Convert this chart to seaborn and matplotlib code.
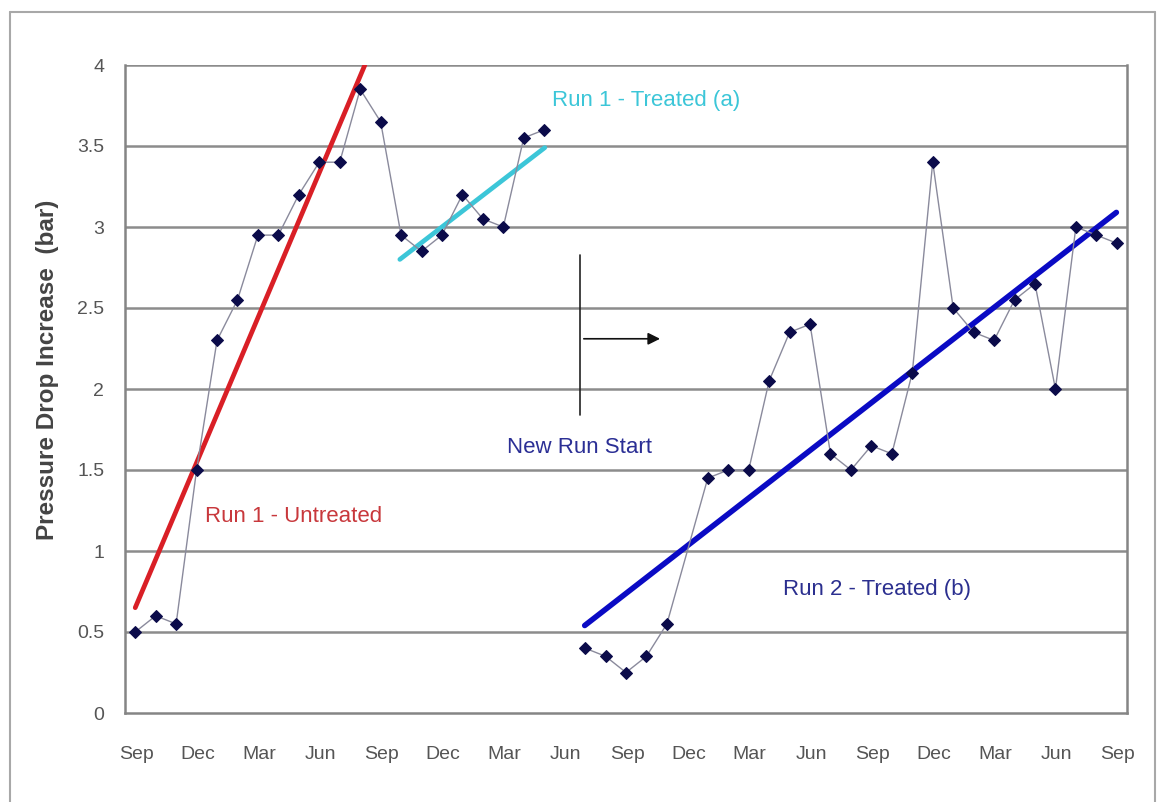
import matplotlib
matplotlib.use("Agg")
import matplotlib.pyplot as plt
from matplotlib.lines import Line2D
import seaborn as sns
import numpy as np

# --- Data (month index from first Sep, value in bar) ---
run1_month = [0, 1, 2, 3, 4, 5, 6, 7, 8, 9, 10, 11, 12, 13, 14, 15, 16, 17, 18, 19, 20]
run1_drop = [0.5, 0.6, 0.55, 1.5, 2.3, 2.55, 2.95, 2.95, 3.2, 3.4, 3.4, 3.85,
             3.65, 2.95, 2.85, 2.95, 3.2, 3.05, 3.0, 3.55, 3.6]
run2_month = [22, 23, 24, 25, 26, 28, 29, 30, 31, 32, 33, 34, 35, 36, 37, 38,
              39, 40, 41, 42, 43, 44, 45, 46, 47, 48]
run2_drop = [0.4, 0.35, 0.25, 0.35, 0.55, 1.45, 1.5, 1.5, 2.05, 2.35, 2.4, 1.6,
             1.5, 1.65, 1.6, 2.1, 3.4, 2.5, 2.35, 2.3, 2.55, 2.65, 2.0, 3.0, 2.95, 2.9]

# trend lines (start/end)
untreated_x = [0.5, 11.73]
untreated_y = [0.65, 4.0]
treated_a_x = [13.44, 20.53]
treated_a_y = [2.8, 3.49]
treated_b_x = [22.48, 48.48]
treated_b_y = [0.54, 3.09]

tick_labels = ['Sep', 'Dec', 'Mar', 'Jun'] * 4 + ['Sep']

# --- Style ---
sns.set_style("white")
plt.rcParams['font.family'] = ['Liberation Sans', 'DejaVu Sans']

fig = plt.figure(figsize=(11.58, 8.02), dpi=100)
ax = fig.add_axes([125 / 1158, 1 - 713 / 802, (1127 - 125) / 1158, (713 - 65) / 802])

grid_c = '#8c8c8c'
for yv in np.arange(0.5, 4.01, 0.5):
    ax.axhline(yv, color=grid_c, lw=1.8, zorder=0)

# measured series
mk = dict(marker='D', markersize=6.5, markerfacecolor='#0b0b4a', markeredgecolor='#0b0b4a')
sns.lineplot(x=np.array(run1_month) + 0.5, y=run1_drop, ax=ax, sort=False,
             color='#8a8a9c', lw=1, zorder=3, **mk)
sns.lineplot(x=np.array(run2_month) + 0.5, y=run2_drop, ax=ax, sort=False,
             color='#8a8a9c', lw=1, zorder=3, **mk)

# trend lines
sns.lineplot(x=untreated_x, y=untreated_y, ax=ax, color='#d91f26', lw=3.4, zorder=2)
sns.lineplot(x=treated_a_x, y=treated_a_y, ax=ax, color='#3cc6d8', lw=3.4, zorder=2)
sns.lineplot(x=treated_b_x, y=treated_b_y, ax=ax, color='#0a0ac4', lw=4.0, zorder=2)

# annotations
fs = 16
ax.text(3.9, 1.21, 'Run 1 - Untreated', color='#c8383c', fontsize=fs, va='center')
ax.text(20.9, 3.78, 'Run 1 - Treated (a)', color='#3cc6d8', fontsize=fs, va='center')
ax.text(18.67, 1.64, 'New Run Start', color='#2b2f95', fontsize=fs, va='center')
ax.text(32.16, 0.76, 'Run 2 - Treated (b)', color='#2b2f8f', fontsize=fs, va='center')
ax.plot([22.24, 22.24], [1.84, 2.83], color='#222222', lw=1.2)
ax.annotate('', xy=(26.3, 2.31), xytext=(22.3, 2.31),
            arrowprops=dict(arrowstyle='-|>', color='#111111', lw=1.2, mutation_scale=18))

# axes
ax.set_xlim(0, 49)
ax.set_ylim(0, 4)
ax.set_yticks(np.arange(0, 4.01, 0.5))
ax.set_yticklabels(['0', '0.5', '1', '1.5', '2', '2.5', '3', '3.5', '4'])
ax.set_xticks(np.arange(0, 49, 3))
ax.set_xticklabels([])
ax.set_xticks(np.arange(0, 49, 3) + 0.55, minor=True)
ax.set_xticklabels(tick_labels, minor=True)
ax.tick_params(axis='x', which='major', length=6, width=1.5, color='#808080', direction='out')
ax.tick_params(axis='x', which='minor', length=0, pad=24, labelsize=14, labelcolor='#555555')
ax.tick_params(axis='y', length=7, width=1.5, color='#808080', direction='out',
               labelsize=14, labelcolor='#555555', pad=8)
for side in ['left', 'bottom', 'right', 'top']:
    ax.spines[side].set_color('#858585')
    ax.spines[side].set_linewidth(1.8)
ax.spines['top'].set_visible(False)

ax.set_ylabel('Pressure Drop Increase  (bar)', fontsize=17.5, fontweight='bold',
              color='#444444')
ax.yaxis.set_label_coords(-0.066, 0.53)

# outer chart frame
frame_c = '#a8a8a8'
fig.add_artist(Line2D([10 / 1158, 10 / 1158], [0, 1 - 12 / 802], color=frame_c, lw=1.5))
fig.add_artist(Line2D([10 / 1158, 1155 / 1158], [1 - 12 / 802, 1 - 12 / 802], color=frame_c, lw=1.5))
fig.add_artist(Line2D([1155 / 1158, 1155 / 1158], [0, 1 - 12 / 802], color=frame_c, lw=1.5))

plt.savefig('out.png', dpi=100)
